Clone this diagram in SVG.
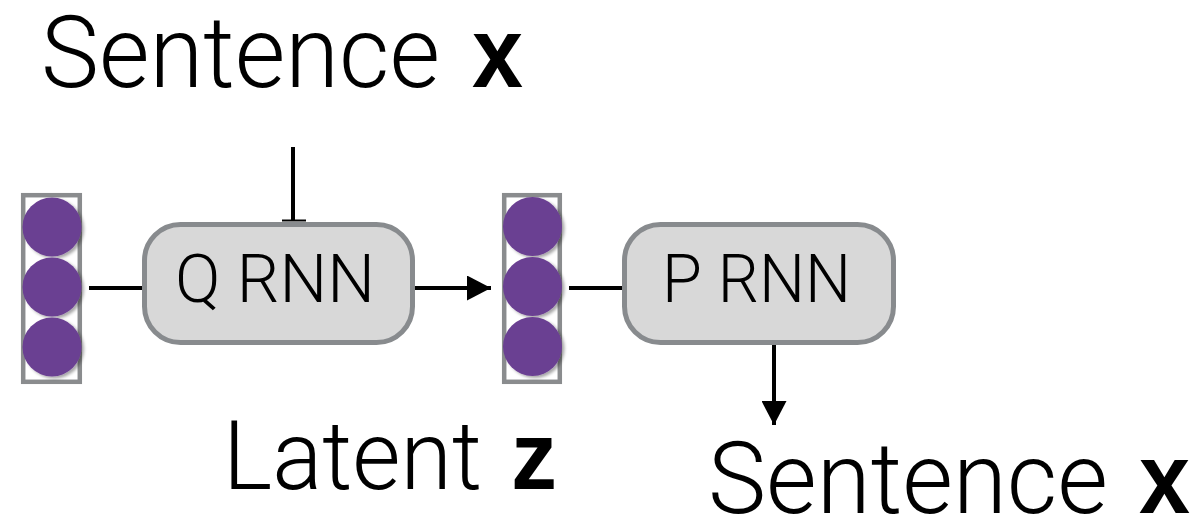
<svg xmlns="http://www.w3.org/2000/svg" width="1198" height="517" viewBox="0 0 1198 517">
<style>
.lbl{font-family:Roboto,"Liberation Sans",Arial,sans-serif;font-weight:300;fill:#000}
.bold{font-family:"Liberation Sans",Arial,sans-serif;font-weight:700}
.col{fill:#fff;stroke:#8a8c8e;stroke-width:4.5}
.dot{fill:#6b3f92}
.box{fill:#d8d8d8;stroke:#888b8e;stroke-width:5}
.edge{stroke:#000;stroke-width:4;fill:none}
</style>
<defs>
<filter id="sh" x="-20%" y="-20%" width="150%" height="150%">
<feDropShadow dx="2.5" dy="2" stdDeviation="1.5" flood-color="#000" flood-opacity="0.35"/>
</filter>
<marker id="ah" viewBox="0 0 24 25" refX="24" refY="12.5" markerWidth="24" markerHeight="25" markerUnits="userSpaceOnUse" orient="auto">
<path d="M0,0 L24,12.5 L0,25 Z" fill="#000"/>
</marker>
</defs>

<g id="label-sentence-top">
<text class="lbl" x="41" y="87" font-size="100" textLength="399" lengthAdjust="spacingAndGlyphs">Sentence</text>
<text class="lbl bold" x="472" y="87" font-size="100" textLength="51" lengthAdjust="spacingAndGlyphs">x</text>
</g>

<g id="connectors">
<line class="edge" x1="293" y1="147" x2="293" y2="221"/>
<line x1="282" y1="220.5" x2="306" y2="220.5" stroke="#000" stroke-width="2"/>
<line class="edge" x1="89" y1="288" x2="143" y2="288"/>
<line class="edge" x1="415" y1="288" x2="491" y2="288" marker-end="url(#ah)"/>
<line class="edge" x1="569" y1="288" x2="623" y2="288"/>
<line class="edge" x1="774" y1="345" x2="774" y2="425" marker-end="url(#ah)"/>
</g>

<g id="latent-input">
<rect class="col" x="23.2" y="195.2" width="56.6" height="186.6"/>
<g filter="url(#sh)">
<circle class="dot" cx="52" cy="227" r="29.5"/>
<circle class="dot" cx="52" cy="287" r="29.5"/>
<circle class="dot" cx="52" cy="347" r="29.5"/>
</g>
</g>

<g id="q-rnn">
<rect class="box" x="144.5" y="224.5" width="268" height="118" rx="36"/>
<text class="lbl" x="175" y="302" font-size="66" textLength="200" lengthAdjust="spacingAndGlyphs">Q RNN</text>
</g>

<g id="latent-z">
<rect class="col" x="504.2" y="195.2" width="55.6" height="186.6"/>
<g filter="url(#sh)">
<circle class="dot" cx="532.5" cy="226.5" r="29.5"/>
<circle class="dot" cx="532.5" cy="286.5" r="29.5"/>
<circle class="dot" cx="532.5" cy="346.5" r="29.5"/>
</g>
</g>

<g id="p-rnn">
<rect class="box" x="624.5" y="224.5" width="269" height="118" rx="36"/>
<text class="lbl" x="662" y="302" font-size="66" textLength="189" lengthAdjust="spacingAndGlyphs">P RNN</text>
</g>

<g id="label-latent">
<text class="lbl" x="223" y="489" font-size="97" textLength="259" lengthAdjust="spacingAndGlyphs">Latent</text>
<text class="lbl bold" x="511" y="489" font-size="97" textLength="46" lengthAdjust="spacingAndGlyphs">z</text>
</g>

<g id="label-sentence-bottom">
<text class="lbl" x="708" y="513" font-size="100" textLength="400" lengthAdjust="spacingAndGlyphs">Sentence</text>
<text class="lbl bold" x="1139" y="513" font-size="100" textLength="51" lengthAdjust="spacingAndGlyphs">x</text>
</g>
</svg>
